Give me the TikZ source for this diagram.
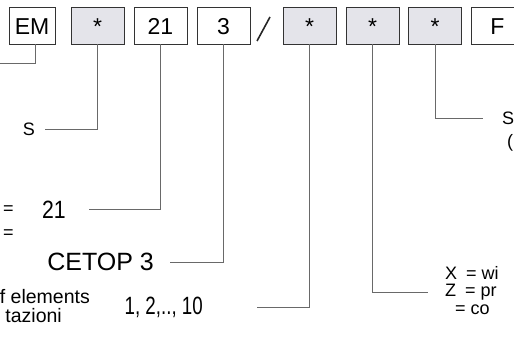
\documentclass[tikz,border=0pt]{standalone}
\usepackage{fontspec}
\setmainfont{Liberation Sans}
\usetikzlibrary{positioning}
\definecolor{boxgray}{RGB}{228,228,234}
\definecolor{linegray}{RGB}{105,105,105}

\begin{document}
\begin{tikzpicture}[x=1pt,y=-1pt]
        % Setup the styles for the code boxes and the labels
        \tikzset{code box/.style={draw=black!80,
                                  line width=0.8pt,
                                  minimum width=53pt,
                                  minimum height=37pt,
                                  inner sep=0pt,
                                  text height=17pt,
                                  text depth=0pt,
                                  font=\fontsize{23}{23}\selectfont},
                 star box/.style={code box, fill=boxgray},
                 big label/.style={inner sep=0pt, font=\fontsize{25}{25}\selectfont},
                 small label/.style={inner sep=0pt, font=\fontsize{18}{18}\selectfont},
                 link/.style={draw=linegray, line width=0.8pt}}
        \useasboundingbox (0,0) rectangle (514,343);

        % Draw the code boxes
        \node[code box, minimum width=46pt] at (32, 25.5)  (em)    {EM};
        \node[star box]                     at (97.5, 25.5) (s1)   {*};
        \node[code box]                     at (160.5, 25.5) (size) {21};
        \node[code box]                     at (223.5, 25.5) (cetop) {3};
        \node[star box]                     at (309.5, 25.5) (s2)   {*};
        \node[star box]                     at (372.5, 25.5) (s3)   {*};
        \node[star box]                     at (435, 25.5)   (s4)   {*};
        \node[code box]                     at (497.5, 25.5) (f)    {F};
        \draw[line width=1.6pt, black!85] (257, 41) -- (270, 17);

        % Draw the labels
        \node[small label, anchor=east] at (35, 129)    (lS)     {S};
        \node[small label, anchor=west] at (3, 210)     (eqa)    {=};
        \node[small label, anchor=west] at (3, 234.5)   (eqb)    {=};
        \node[big label, anchor=east]   at (66, 209.5)  (lsize)  {\scalebox{0.85}[1]{21}};
        \node[big label, anchor=east]   at (154, 262)   (lcetop) {CETOP 3};
        \node[small label, anchor=east,
              font=\fontsize{19.5}{19.5}\selectfont]
                                        at (90, 297)    (lelem)  {f elements};
        \node[small label, anchor=east,
              font=\fontsize{19.5}{19.5}\selectfont]
                                        at (62, 316)    (lstaz)  {tazioni};
        \node[big label, anchor=east]   at (203, 307)   (lnum)   {\scalebox{0.75}[1]{1, 2,.., 10}};
        \node[small label, anchor=west] at (445, 273)   (lX)     {X\hspace{9pt}=\hspace{5pt}wi};
        \node[small label, anchor=west] at (445, 292)   (lZ)     {Z\hspace{9pt}=\hspace{5pt}pr};
        \node[small label, anchor=west] at (455, 310)   (lco)    {=\hspace{5pt}co};
        \node[small label, anchor=west] at (502, 118)   (lSr)    {S};
        \node[small label, anchor=west] at (507, 143)   (lpar)   {(};
        \coordinate (emEnd) at (0, 63);

        % Connect the boxes with the labels
        \draw[link] ([xshift=3pt]em.south) |- (emEnd);
        \draw[link] (s1.south)    |- ([xshift=10pt]lS.east);
        \draw[link] (size.south)  |- ([xshift=23pt]lsize.east);
        \draw[link] (cetop.south) |- ([xshift=16pt]lcetop.east);
        \draw[link] (s2.south)    |- ([xshift=54pt]lnum.east);
        \draw[link] (s3.south)    |- ([xshift=-17pt]lZ.west);
        \draw[link] (s4.south)    |- ([xshift=-19pt]lSr.west);
    \end{tikzpicture}
\end{document}
